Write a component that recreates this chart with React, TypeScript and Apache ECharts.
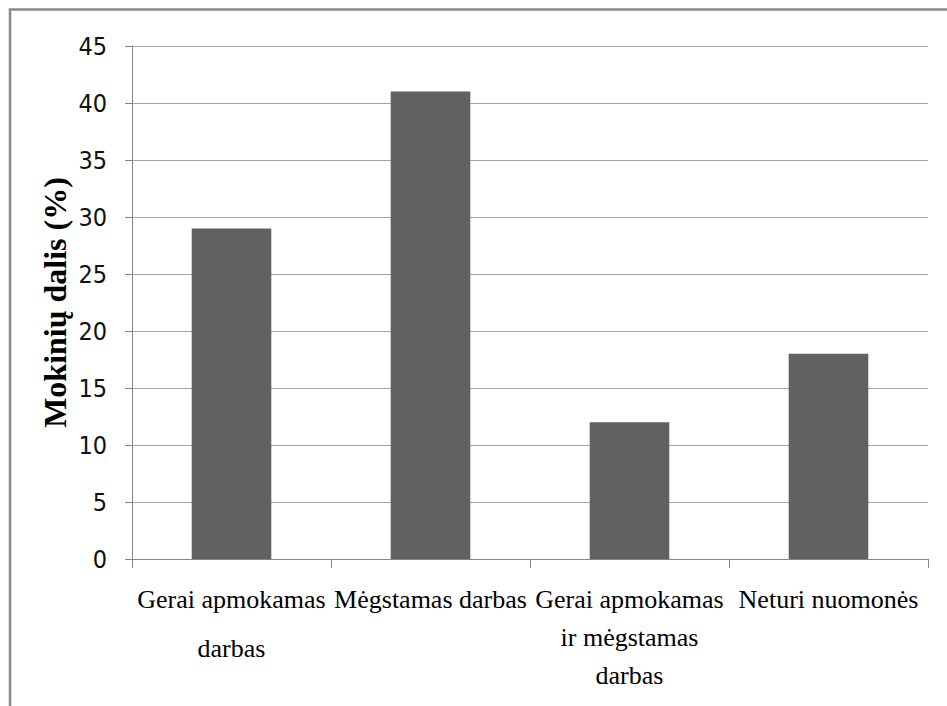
import React, { useEffect, useRef } from "react";
import * as echarts from "echarts";

const categories: string[] = [
  "Gerai apmokamas\ndarbas",
  "Mėgstamas darbas",
  "Gerai apmokamas\nir mėgstamas\ndarbas",
  "Neturi nuomonės",
];
const values: number[] = [29, 41, 12, 18];
const yAxisName = "Mokinių dalis (%)";
const yMin = 0;
const yMax = 45;
const yStep = 5;

const SERIF = "Liberation Serif";
const LABEL_SIZE = 26;
const LABEL_OFFSET = 27; // distance from axis line to top of first label line
const LINE_STEP = 38;
const FIRST_LABEL_LINE_STEP = 49;

export default function App() {
  const ref = useRef<HTMLDivElement>(null);
  useEffect(() => {
    document.body.style.margin = "0";
    if (!ref.current) return;
    const chart = echarts.init(ref.current, undefined, { renderer: "svg" });
    chart.setOption({
      animation: false,
      backgroundColor: "#ffffff",
      grid: { left: 132, right: 19, top: 46, bottom: 147, containLabel: false },
      xAxis: {
        type: "category",
        data: categories,
        axisLine: { show: true, lineStyle: { color: "#868686", width: 1 } },
        axisTick: { show: true, length: 9, lineStyle: { color: "#868686" } },
        axisLabel: { show: false },
        splitLine: { show: false },
      },
      yAxis: {
        type: "value",
        min: yMin,
        max: yMax,
        interval: yStep,
        name: yAxisName,
        nameLocation: "middle",
        nameGap: 61,
        nameRotate: 90,
        nameMoveOverlap: false,
        nameTextStyle: {
          fontFamily: SERIF,
          fontWeight: "bold",
          fontSize: 32,
          color: "#000",
        },
        axisLine: { show: true, lineStyle: { color: "#868686", width: 1 } },
        axisTick: { show: true, length: 7, lineStyle: { color: "#868686" } },
        axisLabel: {
          margin: 25,
          color: "#111",
          fontFamily: "'Liberation Sans Narrow', 'DejaVu Sans Condensed', 'Open Sans', sans-serif",
          fontSize: 25,
        },
        splitLine: { show: true, lineStyle: { color: "#a3a3a3", width: 1 } },
      },
      series: [
        {
          type: "bar",
          data: values,
          barCategoryGap: "60%",
          itemStyle: { color: "#616161" },
        },
      ],
    });

    const canvas = document.createElement("canvas");
    const ctx = canvas.getContext("2d");
    if (ctx) ctx.font = `${LABEL_SIZE}px ${SERIF}`;
    const measure = (s: string) => (ctx ? ctx.measureText(s).width : s.length * 12);

    const axisY = chart.convertToPixel({ yAxisIndex: 0 }, yMin) as number;
    const labels: any[] = [];
    categories.forEach((c, i) => {
      const cx = chart.convertToPixel({ xAxisIndex: 0 }, i) as number;
      const step = i === 0 ? FIRST_LABEL_LINE_STEP : LINE_STEP;
      c.split("\n").forEach((line, j) => {
        labels.push({
          type: "text",
          x: cx - measure(line) / 2,
          y: axisY + LABEL_OFFSET + j * step,
          style: {
            text: line,
            fill: "#000",
            fontFamily: SERIF,
            fontSize: LABEL_SIZE,
            fontWeight: "normal",
          },
        });
      });
    });

    chart.setOption({
      graphic: [
        {
          type: "rect",
          shape: { x: 10, y: 9.5, width: 960, height: 720 },
          style: { fill: "none", stroke: "#8a8a8a", lineWidth: 2.5 },
          silent: true,
        },
        ...labels,
      ],
    });
    return () => chart.dispose();
  }, []);
  return <div ref={ref} style={{ width: 947, height: 706 }} />;
}
